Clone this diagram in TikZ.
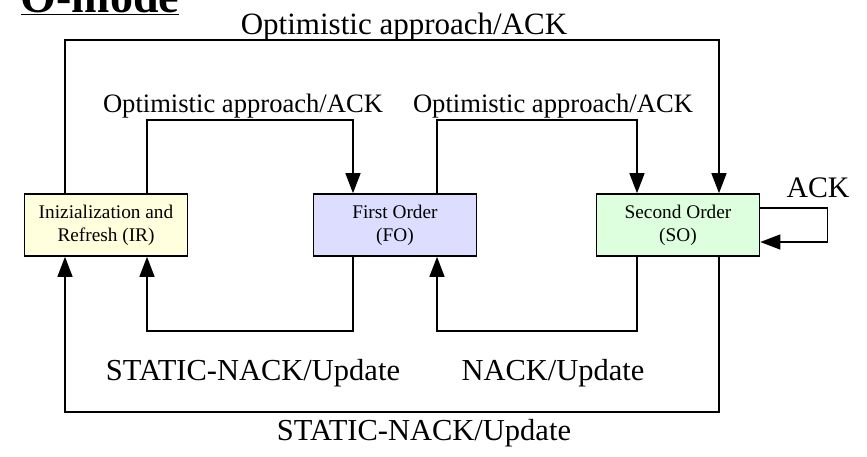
\documentclass[tikz,border=0pt]{standalone}
\usepackage{fontspec}
\setmainfont{Liberation Serif}
\usetikzlibrary{arrows.meta}

\tikzset{
  state/.style={draw, line width=1.6pt, minimum width=163pt, minimum height=62pt,
    align=center, font=\fontsize{19.3}{23}\selectfont},
  flow/.style={line width=1.4pt, -{Triangle[length=20pt,width=15pt]}},
  lbl/.style={anchor=base, font=\fontsize{30.5}{32}\selectfont, inner sep=0pt},
  lblsmall/.style={anchor=base, font=\fontsize{26.6}{28}\selectfont, inner sep=0pt}
}

\begin{document}
\begin{tikzpicture}[x=1pt,y=-1pt]
    \useasboundingbox (0,0) rectangle (867,456);

    % Titel
    \node[anchor=base, font=\fontsize{46}{48}\selectfont\bfseries] (title) at (100,12) {\underline{O-mode}};

    % Zustaende
    \node[state, fill={rgb,255:red,255;green,255;blue,221}] (IR) at (106,225) {Inizialization and\\Refresh (IR)};
    \node[state, fill={rgb,255:red,221;green,221;blue,255}] (FO) at (395,225) {First Order\\(FO)};
    \node[state, fill={rgb,255:red,221;green,255;blue,221}] (SO) at (678,225) {Second Order\\(SO)};

    % Eckpunkte
    \coordinate (top) at (400,40);
    \coordinate (midA) at (250,120);
    \coordinate (midB) at (537,120);
    \coordinate (lowA) at (250,331);
    \coordinate (lowB) at (537,331);
    \coordinate (bot) at (400,412);

    % Uebergaenge nach oben
    \draw[flow] ([xshift=-41pt]IR.north) |- (top) -| ([xshift=41pt]SO.north);
    \draw[flow] ([xshift=41pt]IR.north) |- (midA) -| ([xshift=-42pt]FO.north);
    \draw[flow] ([xshift=42pt]FO.north) |- (midB) -| ([xshift=-41pt]SO.north);
    \draw[flow] ([yshift=17pt]SO.east) -- ++(67,0) |- ([yshift=-17pt]SO.east);

    % Uebergaenge nach unten
    \draw[flow] ([xshift=-42pt]FO.south) |- (lowA) -| ([xshift=41pt]IR.south);
    \draw[flow] ([xshift=-41pt]SO.south) |- (lowB) -| ([xshift=42pt]FO.south);
    \draw[flow] ([xshift=41pt]SO.south) |- (bot) -| ([xshift=-41pt]IR.south);

    % Beschriftungen
    \node[lbl, font=\fontsize{31}{33}\selectfont] (lTop) at (404,34) {Optimistic approach/ACK};
    \node[lblsmall] (lIRFO) at (243,112) {Optimistic approach/ACK};
    \node[lblsmall] (lFOSO) at (553,112) {Optimistic approach/ACK};
    \node[lbl, font=\fontsize{29.8}{31}\selectfont] (lAck) at (818,197) {ACK};
    \node[lbl] (lStat) at (253,380) {STATIC-NACK/Update};
    \node[lbl] (lNack) at (553,380) {NACK/Update};
    \node[lbl] (lBot) at (424,440) {STATIC-NACK/Update};
\end{tikzpicture}
\end{document}
